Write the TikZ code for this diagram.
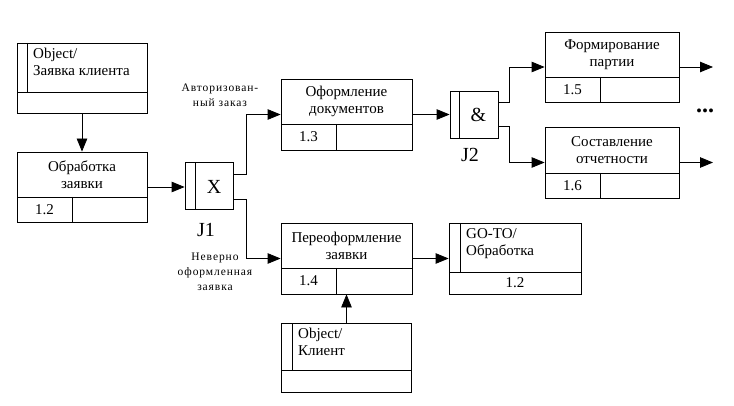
\documentclass[tikz,border=0pt]{standalone}
\usepackage{fontspec}
\setmainfont{Liberation Serif}
\usetikzlibrary{arrows.meta}

\tikzset{
  blk/.style={draw, line width=0.8pt, minimum width=131pt, minimum height=71pt, inner sep=0pt},
  jbox/.style={draw, line width=0.8pt, minimum width=48pt, minimum height=47pt, inner sep=0pt},
  ttl/.style={align=center, font=\fontsize{15}{17}\selectfont, inner sep=0pt},
  note/.style={align=center, font=\fontsize{11.5}{15}\selectfont\addfontfeatures{LetterSpace=8}, inner sep=0pt},
  jname/.style={font=\fontsize{20}{22}\selectfont, inner sep=0pt},
  arr/.style={line width=0.8pt, -{Triangle[length=13pt,width=10.5pt]}},
  sep/.style={line width=0.8pt}
}

\begin{document}
\begin{tikzpicture}[x=1pt,y=-1pt]
\useasboundingbox (0,0) rectangle (734,406);

% object on top
\node[blk, minimum width=130pt, minimum height=70pt] (obj1) at (82,78) {};
\draw[sep] (17,92) -- (147,92);
\draw[sep] (27,43) -- (27,92);
\node[ttl, align=left, anchor=north west] (obj1t) at (33,48) {Object/\\Заявка клиента};

\node[blk, minimum width=130pt, minimum height=70pt] (p12) at (82,187) {};
\draw[sep] (17,197) -- (147,197);
\draw[sep] (72,197) -- (72,222);
\node[ttl] (p12t) at (82,174.5) {Обработка\\заявки};
\node[ttl] (p12n) at (44.5,209.5) {1.2};

% junction J1
\node[jbox] (j1) at (209,186) {};
\draw[sep] (195,162.5) -- (195,209.5);
\node[jname] (j1x) at (214,187) {X};
\node[jname] (j1n) at (206,230) {J1};

\node[blk] (p13) at (346.5,114.5) {};
\draw[sep] (281,124) -- (412,124);
\draw[sep] (336,124) -- (336,150);
\node[ttl] (p13t) at (346.5,101.5) {Оформление\\документов};
\node[ttl] (p13n) at (308.5,137) {1.3};

\node[blk] (p14) at (346.5,258.5) {};
\draw[sep] (281,268) -- (412,268);
\draw[sep] (336,268) -- (336,294);
\node[ttl] (p14t) at (346.5,245.5) {Переоформление\\заявки};
\node[ttl] (p14n) at (308.5,281) {1.4};

% junction J2
\node[jbox] (j2) at (474,114.5) {};
\draw[sep] (459,91) -- (459,138);
\node[jname] (j2a) at (478.5,115) {\&};
\node[jname] (j2n) at (470,155) {J2};

% right ones
\node[blk, minimum width=134pt, minimum height=70pt] (p15) at (612,67) {};
\draw[sep] (545,77) -- (679,77);
\draw[sep] (600,77) -- (600,102);
\node[ttl] (p15t) at (612,54.5) {Формирование\\партии};
\node[ttl] (p15n) at (572.5,89.5) {1.5};

\node[blk, minimum width=134pt] (p16) at (612,162.5) {};
\draw[sep] (545,173) -- (679,173);
\draw[sep] (600,173) -- (600,198);
\node[ttl] (p16t) at (612,150) {Составление\\отчетности};
\node[ttl] (p16n) at (572.5,185.5) {1.6};

\node[font=\bfseries\fontsize{24}{24}\selectfont, inner sep=0pt] (dots) at (705,111) {...};

% go-to
\node[blk, minimum width=132pt] (goto) at (515,258.5) {};
\draw[sep] (449,272) -- (581,272);
\draw[sep] (460,223) -- (460,272);
\node[ttl, align=left, anchor=north west] (gotot) at (466,228) {GO-TO/\\Обработка};
\node[ttl] (goton) at (515,283) {1.2};

% object below
\node[blk, minimum width=130pt, minimum height=69pt] (obj2) at (346.5,357.5) {};
\draw[sep] (281.5,370) -- (411.5,370);
\draw[sep] (292,323) -- (292,370);
\node[ttl, align=left, anchor=north west] (obj2t) at (298,328) {Object/\\Клиент};

\node[note] (ok) at (220,95.5) {Авторизован-\\ный заказ};
\node[note] (bad) at (215,272) {Неверно\\оформленная\\заявка};

\coordinate (out15) at (713,67);
\coordinate (out16) at (713,162.5);

\draw[arr] (obj1.south) -- (p12.north);
\draw[arr] (p12.east) -- (p12.east -| j1.west);
\draw[arr] ([yshift=12pt]j1.east) -- ++(13,0) |- (p13.west);
\draw[arr] ([yshift=-13pt]j1.east) -- ++(13,0) |- (p14.west);
\draw[arr] (p13.east) -- (j2.west);
\draw[arr] ([yshift=12pt]j2.east) -- ++(11,0) |- (p15.west);
\draw[arr] ([yshift=-12pt]j2.east) -- ++(11,0) |- (p16.west);
\draw[arr] (p15.east) -- (out15);
\draw[arr] (p16.east) -- (out16);
\draw[arr] (p14.east) -- (goto.west);
\draw[arr] (obj2.north) -- (p14.south);

\end{tikzpicture}
\end{document}
